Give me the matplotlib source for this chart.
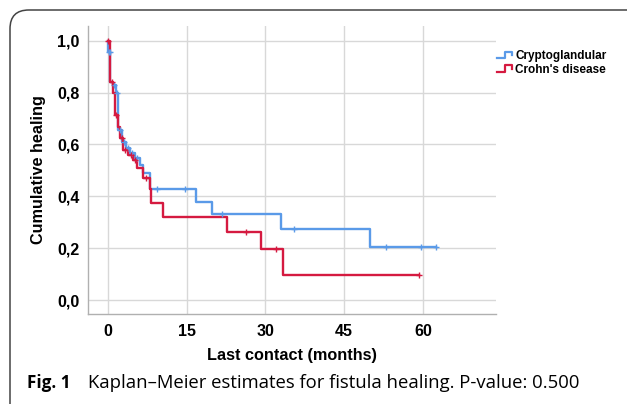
import numpy as np
import matplotlib
matplotlib.use("Agg")
import matplotlib.pyplot as plt
from matplotlib.legend_handler import HandlerBase
from matplotlib.lines import Line2D
from matplotlib.patches import FancyBboxPatch

# ---------------- data ----------------
groups = ["Cryptoglandular", "Crohn's disease"]

crypto_times = [0, 0.05, 0.1, 0.4, 1.0, 1.6, 2.0, 2.6, 3.5, 4.2, 5.1, 6.1, 6.7, 8.0, 16.8, 19.9, 33.0, 49.9]
crypto_surv = [1.0, 0.983, 0.958, 0.842, 0.83, 0.797, 0.656, 0.61, 0.586, 0.566, 0.546, 0.52, 0.488, 0.428, 0.379, 0.333, 0.275, 0.206]
crypto_end = 62.4
crypto_censor = [0.2, 0.3, 1.2, 1.8, 2.3, 3.0, 3.8, 4.6, 5.6, 9.3, 14.7, 21.8, 35.4, 52.9, 59.7, 62.4]

crohn_times = [0, 0.3, 1.0, 1.3, 1.9, 2.3, 2.9, 3.9, 4.8, 5.5, 6.7, 8.0, 8.2, 10.5, 22.7, 29.1, 33.4]
crohn_surv = [1.0, 0.842, 0.80, 0.713, 0.668, 0.625, 0.578, 0.559, 0.54, 0.51, 0.469, 0.427, 0.373, 0.319, 0.264, 0.198, 0.096]
crohn_end = 59.3
crohn_censor = [0.0, 0.8, 1.6, 2.6, 3.3, 4.3, 5.2, 7.3, 26.3, 32.0, 59.3]

x_ticks = [0, 15, 30, 45, 60]
y_ticks = [0.0, 0.2, 0.4, 0.6, 0.8, 1.0]
y_ticklabels = ["0,0", "0,2", "0,4", "0,6", "0,8", "1,0"]

blue = "#5a9ae8"
red = "#d51a40"

# ---------------- figure ----------------
fig = plt.figure(figsize=(6.27, 4.04), dpi=100)
W, H = 627, 404

# outer rounded frame (only top/left visible)
frame = FancyBboxPatch((10 / W, -20 / H), (W + 20 - 10) / W, (H - 10 + 20) / H,
                       boxstyle="round,pad=0,rounding_size=0.03",
                       transform=fig.transFigure, fill=False,
                       edgecolor="#444444", linewidth=1.1, clip_on=False,
                       mutation_aspect=W / H)
fig.patches.append(frame)

ax = fig.add_axes([88 / W, 1 - 314 / H, (496 - 88) / W, (314 - 26) / H])
ax.set_xlim(-3.8, 73.9)
ax.set_ylim(-0.054, 1.057)

for s in ["top", "right"]:
    ax.spines[s].set_visible(False)
for s in ["left", "bottom"]:
    ax.spines[s].set_color("#b0b0b0")
    ax.spines[s].set_linewidth(1.0)

ax.set_xticks(x_ticks)
ax.set_yticks(y_ticks)
ax.set_yticklabels(y_ticklabels)
ax.tick_params(axis="y", length=0, pad=6)
ax.tick_params(axis="x", length=0, pad=7)
for lab in ax.get_xticklabels() + ax.get_yticklabels():
    lab.set_fontfamily("Liberation Sans")
    lab.set_fontweight("bold")
    lab.set_fontsize(11.5)
ax.grid(True, color="#d8d8d8", linewidth=1.0)
ax.set_axisbelow(True)


def step_data(times, surv, end):
    t = list(times) + [end]
    s = list(surv) + [surv[-1]]
    return t, s


def surv_at(times, surv, t):
    idx = np.searchsorted(np.asarray(times), t, side="right") - 1
    return np.asarray(surv)[np.clip(idx, 0, len(surv) - 1)]


for times, surv, end, cens, col, lab in [
    (crypto_times, crypto_surv, crypto_end, crypto_censor, blue, groups[0]),
    (crohn_times, crohn_surv, crohn_end, crohn_censor, red, groups[1]),
]:
    t, s = step_data(times, surv, end)
    ax.step(t, s, where="post", color=col, linewidth=1.7, label=lab, zorder=3)
    cy = surv_at(times, surv, np.asarray(cens))
    ax.plot(cens, cy, linestyle="none", marker="+", markersize=5,
            markeredgewidth=1.0, color=col, zorder=4)

ax.set_xlabel("Last contact (months)", fontfamily="Liberation Sans",
              fontweight="bold", fontsize=11.7, labelpad=7)
ax.set_ylabel("Cumulative healing", fontfamily="Liberation Sans",
              fontweight="bold", fontsize=11.7, labelpad=8)


class StepHandler(HandlerBase):
    def create_artists(self, legend, orig_handle, xdescent, ydescent,
                       width, height, fontsize, trans):
        xs = np.array([0, 0.45, 0.45, 0.9, 0.9]) * width - xdescent
        ys = np.array([0.15, 0.15, 0.85, 0.85, 0.45]) * height - ydescent
        ln = Line2D(xs, ys, color=orig_handle.get_color(), linewidth=1.6,
                    transform=trans)
        return [ln]


handles = [Line2D([], [], color=blue), Line2D([], [], color=red)]
leg = fig.legend(handles, groups, loc="upper left",
                 bbox_to_anchor=(497 / W, 1 - 50 / H),
                 handler_map={Line2D: StepHandler()},
                 frameon=False, handlelength=1.45, handleheight=0.85,
                 handletextpad=0.1, labelspacing=0.15, borderpad=0,
                 borderaxespad=0,
                 prop={"family": "Liberation Sans", "weight": "bold", "size": 8.5})

# caption
fig.text(27 / W, 1 - 383 / H, "Fig. 1", fontfamily="Open Sans", fontweight="bold",
         fontsize=12.3, va="center", ha="left")
fig.text(88 / W, 1 - 383 / H, "Kaplan\u2013Meier estimates for fistula healing. P-value: 0.500",
         fontfamily="Open Sans", fontsize=13.3, va="center", ha="left")

fig.savefig("out.png", dpi=100)
